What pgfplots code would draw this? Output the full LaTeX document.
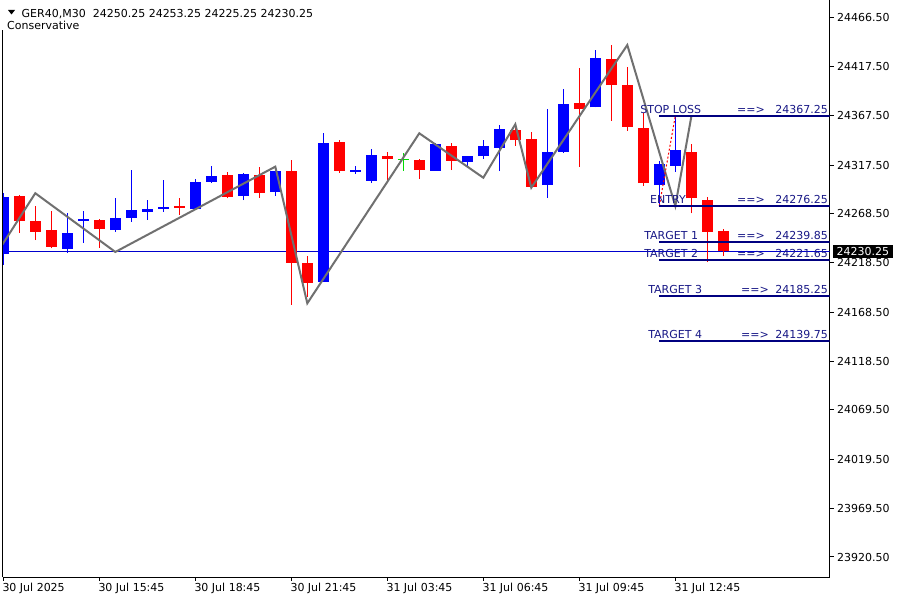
\documentclass[border=0pt]{standalone}
\usepackage{fontspec}
\setmainfont{DejaVu Sans}
\usepackage{pgfplots}
\usepackage{pgfplotstable}
\pgfplotsset{compat=1.18}
\definecolor{bullc}{RGB}{0,0,255}
\definecolor{bearc}{RGB}{255,0,0}
\definecolor{dojic}{RGB}{0,220,0}
\definecolor{zzc}{RGB}{112,112,112}
\definecolor{lvl}{RGB}{0,0,128}
\definecolor{lvltxt}{RGB}{25,25,135}
\definecolor{bidc}{RGB}{0,0,205}

% bullish candles: index open high low close
\pgfplotstableread{
k o h l c
0 24227.1 24289.5 24216.3 24285.5
4 24232.8 24268.7 24228.7 24248.7
5 24261.2 24271.0 24238.9 24263.2
7 24251.7 24283.9 24250.0 24263.9
8 24263.9 24312.5 24260.2 24272.0
9 24270.0 24282.1 24261.9 24273.0
10 24273.0 24302.4 24270.3 24275.0
12 24273.0 24303.4 24273.0 24300.7
13 24300.4 24316.6 24299.7 24306.4
15 24286.5 24309.2 24282.1 24308.5
17 24290.2 24312.5 24286.5 24312.0
20 24199.4 24350.3 24199.4 24340.2
22 24310.5 24316.6 24308.5 24312.5
23 24301.7 24333.8 24299.7 24327.7
27 24311.8 24339.6 24311.8 24338.9
29 24320.9 24326.7 24315.9 24326.7
30 24326.7 24342.9 24323.7 24336.8
31 24335.1 24358.1 24311.5 24354.1
34 24297.3 24374.3 24284.5 24330.8
35 24330.8 24394.6 24330.1 24379.4
37 24376.0 24434.1 24376.0 24426.0
41 24297.3 24321.6 24277.1 24318.6
42 24316.6 24367.0 24310.8 24332.8
}\bulltab

% bearish candles
\pgfplotstableread{
k o h l c
1 24286.2 24287.2 24249.0 24261.2
2 24261.2 24276.1 24241.6 24250.0
3 24251.7 24271.0 24233.2 24234.8
6 24261.9 24262.6 24233.8 24252.8
11 24276.1 24283.9 24266.9 24274.0
14 24307.5 24310.5 24283.9 24285.5
16 24307.5 24315.3 24284.2 24289.5
18 24311.5 24322.7 24175.8 24218.6
19 24218.3 24225.4 24184.2 24198.4
21 24340.9 24342.9 24309.8 24311.8
24 24326.7 24330.8 24300.7 24324.0
26 24322.7 24323.7 24303.4 24312.5
28 24336.8 24339.6 24312.5 24321.9
32 24353.0 24354.8 24337.1 24342.9
33 24343.9 24351.0 24295.6 24295.6
36 24380.4 24416.2 24315.9 24374.3
38 24425.0 24439.1 24362.5 24398.6
39 24398.6 24417.2 24352.3 24356.4
40 24355.1 24370.3 24296.8 24299.1
43 24330.8 24338.7 24268.5 24283.7
44 24282.1 24285.5 24219.6 24250.0
45 24250.25 24253.25 24225.25 24230.25
}\beartab

% doji
\pgfplotstableread{
k o h l c
25 24323.4 24329.4 24311.8 24323.4
}\dojitab

% zigzag
\pgfplotstableread{
k p
-0.05 24237.2
2 24289.0
7 24229.5
17 24315.9
19 24177.5
26 24349.7
30 24304.7
32 24358.8
33 24294.6
39 24439.1
42 24276.1
43 24366.5
}\zigzag

\begin{document}
\begin{tikzpicture}[x=1pt,y=1pt]
\useasboundingbox (0,0) rectangle (900,600);
\fill[white] (0,0) rectangle (900,600);
\begin{axis}[
  at={(2.5pt,23pt)}, anchor=south west,
  scale only axis, width=827pt, height=577pt,
  xmin=-0.05, xmax=51.6375, ymin=23900.24, ymax=24484.73,
  axis x line*=bottom, axis y line*=right,
  axis line style={black, line width=1pt, -},
  tick align=outside, major tick length=4pt,
  tick style={black, line width=1pt},
  xtick={0,6,12,18,24,30,36,42},
  xticklabels={30 Jul 2025,30 Jul 15:45,30 Jul 18:45,30 Jul 21:45,31 Jul 03:45,31 Jul 06:45,31 Jul 09:45,31 Jul 12:45},
  xticklabel style={anchor=base west, inner sep=0pt, xshift=-1pt, yshift=-10.5pt},
  ytick={24466.5,24417.5,24367.5,24317.5,24268.5,24218.5,24168.5,24118.5,24069.5,24019.5,23969.5,23920.5},
  yticklabels={24466.50,24417.50,24367.50,24317.50,24268.50,24218.50,24168.50,24118.50,24069.50,24019.50,23969.50,23920.50},
  yticklabel style={anchor=west, inner sep=0pt, xshift=3.5pt},
  tick label style={font=\fontsize{11}{13}\selectfont, text=black},
  clip=true,
]
% bid line
\addplot [bidc, line width=1pt, forget plot] coordinates {(-0.05,24230.25) (51.6375,24230.25)};
% wicks
\addplot [draw=none, mark=none, forget plot, error bars/.cd, y dir=plus, y explicit, error mark=none, error bar style={draw=bullc, line width=1pt}]
  table [x=k, y=l, y error plus expr=\thisrow{h}-\thisrow{l}] {\bulltab};
\addplot [draw=none, mark=none, forget plot, error bars/.cd, y dir=plus, y explicit, error mark=none, error bar style={draw=bearc, line width=1pt}]
  table [x=k, y=l, y error plus expr=\thisrow{h}-\thisrow{l}] {\beartab};
\addplot [draw=none, mark=none, forget plot, error bars/.cd, y dir=plus, y explicit, error mark=none, error bar style={draw=dojic, line width=1pt}]
  table [x=k, y=l, y error plus expr=\thisrow{h}-\thisrow{l}] {\dojitab};
% bodies
\addplot [draw=none, mark=none, forget plot, error bars/.cd, y dir=plus, y explicit, error mark=none, error bar style={draw=bullc, line width=11pt}]
  table [x=k, y=o, y error plus expr=\thisrow{c}-\thisrow{o}] {\bulltab};
\addplot [draw=none, mark=none, forget plot, error bars/.cd, y dir=plus, y explicit, error mark=none, error bar style={draw=bearc, line width=11pt}]
  table [x=k, y=c, y error plus expr=\thisrow{o}-\thisrow{c}] {\beartab};
\addplot [draw=none, mark=none, forget plot, error bars/.cd, x dir=both, x fixed=0.34, error mark=none, error bar style={draw=dojic, line width=1pt}]
  table [x=k, y=o] {\dojitab};
% zigzag
\addplot [zzc, line width=2pt, forget plot] table [x=k, y=p] {\zigzag};
% red dotted link
\addplot [bearc, line width=1pt, dash pattern=on 2pt off 2pt, forget plot] coordinates {(41,24276.25) (42,24367.25)};
% levels
\addplot [lvl, line width=2pt, forget plot] coordinates {(41,24367.25) (51.6375,24367.25)};
\addplot [lvl, line width=2pt, forget plot] coordinates {(41,24276.25) (51.6375,24276.25)};
\addplot [lvl, line width=2pt, forget plot] coordinates {(41,24239.85) (51.6375,24239.85)};
\addplot [lvl, line width=2pt, forget plot] coordinates {(41,24221.65) (51.6375,24221.65)};
\addplot [lvl, line width=2pt, forget plot] coordinates {(41,24185.25) (51.6375,24185.25)};
\addplot [lvl, line width=2pt, forget plot] coordinates {(41,24139.75) (51.6375,24139.75)};
% level labels
\begin{scope}[every node/.style={inner sep=0pt, text=lvltxt, font=\fontsize{11}{13}\selectfont}]
\node[anchor=base west, yshift=2pt] at (axis cs:39.8,24367.25) {STOP LOSS};
\node[anchor=base west, yshift=2pt] at (axis cs:45.85,24367.25) {==>};
\node[anchor=base east, yshift=2pt] at (axis cs:51.55,24367.25) {24367.25};
\node[anchor=base west, yshift=2pt] at (axis cs:40.42,24276.25) {ENTRY};
\node[anchor=base west, yshift=2pt] at (axis cs:45.85,24276.25) {==>};
\node[anchor=base east, yshift=2pt] at (axis cs:51.55,24276.25) {24276.25};
\node[anchor=base west, yshift=2pt] at (axis cs:40.05,24239.85) {TARGET 1};
\node[anchor=base west, yshift=2pt] at (axis cs:45.85,24239.85) {==>};
\node[anchor=base east, yshift=2pt] at (axis cs:51.55,24239.85) {24239.85};
\node[anchor=base west, yshift=2.5pt] at (axis cs:40.05,24221.65) {TARGET 2};
\node[anchor=base west, yshift=2.5pt] at (axis cs:45.85,24221.65) {==>};
\node[anchor=base east, yshift=2.5pt] at (axis cs:51.55,24221.65) {24221.65};
\node[anchor=base west, yshift=2.5pt] at (axis cs:40.3,24185.25) {TARGET 3};
\node[anchor=base west, yshift=2.5pt] at (axis cs:46.1,24185.25) {==>};
\node[anchor=base east, yshift=2.5pt] at (axis cs:51.55,24185.25) {24185.25};
\node[anchor=base west, yshift=2.5pt] at (axis cs:40.3,24139.75) {TARGET 4};
\node[anchor=base west, yshift=2.5pt] at (axis cs:46.1,24139.75) {==>};
\node[anchor=base east, yshift=2.5pt] at (axis cs:51.55,24139.75) {24139.75};
\end{scope}
\coordinate (bidR) at (axis cs:51.6375,24230.25);
\end{axis}
% left border
\draw[black, line width=1pt] (2.5,23) -- (2.5,570);
% bid price box
\node[fill=black, text=white, anchor=west, inner xsep=3.5pt, inner ysep=2.5pt, font=\fontsize{11}{13}\selectfont] at ([xshift=3.5pt]bidR) {24230.25};
% header
\fill[black] (8,590) -- (15,590) -- (11.5,585.5) -- cycle;
\node[anchor=base west, inner sep=0pt, font=\fontsize{11}{13}\selectfont] at (21.5,582.7) {GER40,M30\hspace{7pt}24250.25 24253.25 24225.25 24230.25};
\node[anchor=base west, inner sep=0pt, font=\fontsize{11}{13}\selectfont] at (7,570.7) {Conservative};
\end{tikzpicture}
\end{document}
